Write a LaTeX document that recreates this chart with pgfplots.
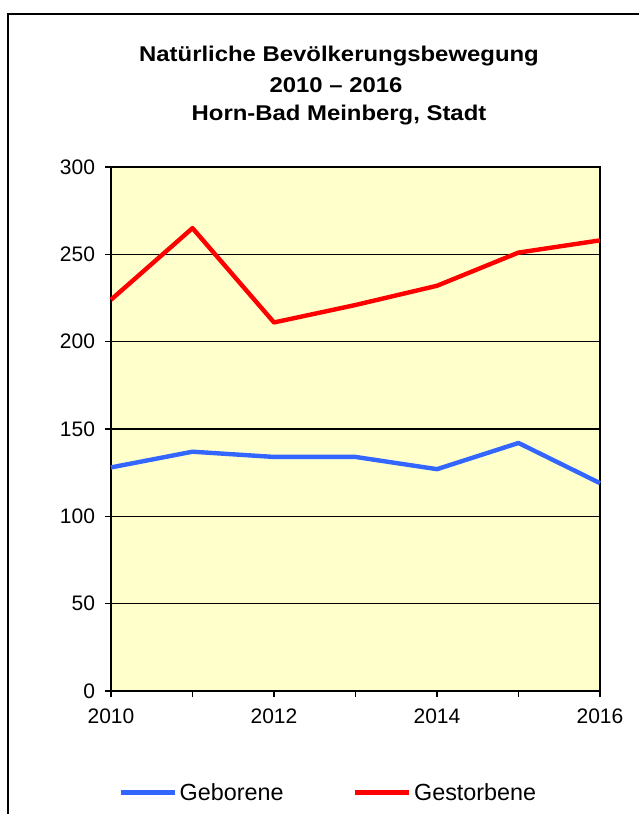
\documentclass[border=0pt]{standalone}
\usepackage{fontspec}
\setmainfont{Liberation Sans}
\newfontfamily\titlefont{Liberation Sans}[FakeStretch=1.12]
\usepackage{pgfplots}
\pgfplotsset{compat=1.18}
\definecolor{bgyellow}{HTML}{FFFFCC}
\definecolor{lblue}{HTML}{3366FF}
\begin{document}
\begin{tikzpicture}
\useasboundingbox (0,0) rectangle (479.25pt,610.5pt);
\draw[line width=1.5pt] (6pt,-20pt) -- (6pt,600pt) -- (500pt,600pt);
\node[anchor=base, font=\titlefont\fontsize{16pt}{18pt}\selectfont\bfseries] at (254.25pt,564pt) {Natürliche Bevölkerungsbewegung};
\node[anchor=base, font=\titlefont\fontsize{16pt}{18pt}\selectfont\bfseries] at (252pt,541.1pt) {2010 – 2016};
\node[anchor=base, font=\titlefont\fontsize{16pt}{18pt}\selectfont\bfseries] at (254.25pt,519.75pt) {Horn-Bad Meinberg, Stadt};
\begin{axis}[
  at={(83.25pt,92.25pt)}, anchor=south west,
  scale only axis, width=366.75pt, height=393pt,
  xmin=2010, xmax=2016, ymin=0, ymax=300,
  axis background/.style={fill=bgyellow},
  axis line style={line width=1.5pt, black},
  xtick={2010,2011,2012,2013,2014,2015,2016},
  xticklabels={2010,,2012,,2014,,2016},
  ytick={0,50,100,150,200,250,300},
  ymajorgrids, grid style={line width=1pt, black},
  tick style={line width=1.2pt, black},
  major tick length=4.5pt,
  tick align=outside,
  xtick pos=bottom, ytick pos=left,
  /pgf/number format/assume math mode=true,
  /pgf/number format/1000 sep={},
  ticklabel style={font=\fontsize{15.75pt}{18pt}\selectfont},
  xticklabel style={yshift=-5.5pt},
  yticklabel style={xshift=-4pt},
  legend style={draw=none, fill=none, at={(0.445,-0.194)}, anchor=center,
    legend columns=2, font=\fontsize{17.5pt}{20pt}\selectfont,
    /tikz/every even column/.append style={column sep=50pt},
    inner sep=0pt, row sep=0pt},
  legend cell align=left,
  legend image code/.code={\draw[#1, line width=3.5pt] (0pt,0pt) -- (40.5pt,0pt);},
  clip=false,
]
\addplot[lblue, line width=3.3pt, line join=round] coordinates {
(2010,128) (2011,137) (2012,134) (2013,134) (2014,127) (2015,142) (2016,119)};
\addlegendentry{Geborene}
\addplot[red, line width=3.3pt, line join=round] coordinates {
(2010,224) (2011,265) (2012,211) (2013,221) (2014,232) (2015,251) (2016,258)};
\addlegendentry{Gestorbene}
\end{axis}
\end{tikzpicture}
\end{document}
